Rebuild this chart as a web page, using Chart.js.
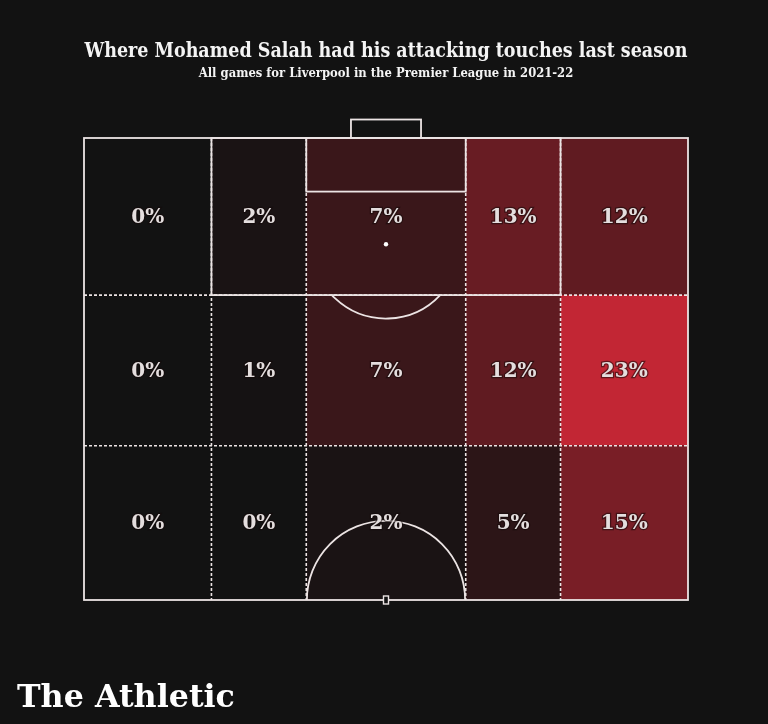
<!DOCTYPE html>
<html><head><meta charset="utf-8">
<script src="https://cdn.jsdelivr.net/npm/chart.js@4.4.0/dist/chart.umd.min.js"></script>
<style>
html,body{margin:0;padding:0;background:#121212;width:768px;height:724px;overflow:hidden;}
#wrap{position:relative;width:768px;height:724px;}
canvas{position:absolute;left:0;top:0;}
.t{position:absolute;color:#f4f4f4;font-family:"DejaVu Serif Condensed","DejaVu Serif";font-weight:bold;white-space:nowrap;line-height:1;}
#logo{color:#ffffff;font-family:"DejaVu Serif";}
</style></head>
<body><div id="wrap">
<canvas id="c" width="768" height="724"></canvas>
<div class="t" id="title">Where Mohamed Salah had his attacking touches last season</div>
<div class="t" id="sub">All games for Liverpool in the Premier League in 2021-22</div>
<div class="t" id="logo">The Athletic</div>
</div>
<script>
// ---- DATA (Opta-style pitch coordinates, 0-100) ----
// horizontal zone edges across the pitch width (left touchline -> right touchline)
const colEdges = [0, 21.1, 36.8, 63.2, 78.9, 100];
// vertical zone edges, goal line (100) down to halfway line (50)
const rowEdges = [100, 83, 66.7, 50];
// share of attacking touches (%) per zone, rows top -> bottom, columns left -> right
const shareTopRow    = [0, 2, 7, 13, 12];
const shareMiddleRow = [0, 1, 7, 12, 23];
const shareBottomRow = [0, 0, 2, 5, 15];
const shareRows = [shareTopRow, shareMiddleRow, shareBottomRow];

// ---- build cells ----
const cells = [];
shareRows.forEach((row, ri) => {
  row.forEach((v, ci) => {
    cells.push({
      x: (colEdges[ci] + colEdges[ci + 1]) / 2,
      y: (rowEdges[ri] + rowEdges[ri + 1]) / 2,
      x0: colEdges[ci], x1: colEdges[ci + 1],
      y0: rowEdges[ri], y1: rowEdges[ri + 1],
      v: v
    });
  });
});
const maxShare = Math.max(...shareRows.flat());
const BG = [18, 18, 18], HOT = [194, 38, 52];
function shade(v) {
  const t = Math.pow(v / maxShare, 1.25);
  const c = BG.map((b, i) => Math.round(b + (HOT[i] - b) * t));
  return `rgb(${c[0]},${c[1]},${c[2]})`;
}

const LINE = '#ece4e4';
const pitchPlugin = {
  id: 'pitch',
  beforeDatasetsDraw(chart) {
    const { ctx, scales: { x, y } } = chart;
    const px = v => x.getPixelForValue(v), py = v => y.getPixelForValue(v);
    ctx.save();
    // zone fills
    chart.data.datasets[0].data.forEach(d => {
      const l = px(d.x0), r = px(d.x1), t = py(d.y0), b = py(d.y1);
      ctx.fillStyle = shade(d.v);
      ctx.fillRect(l, t, r - l, b - t);
    });
    // dashed zone boundaries
    ctx.strokeStyle = LINE;
    ctx.lineWidth = 1.6;
    ctx.setLineDash([3, 2]);
    colEdges.slice(1, -1).forEach(e => {
      ctx.beginPath(); ctx.moveTo(px(e), py(100)); ctx.lineTo(px(e), py(50)); ctx.stroke();
    });
    rowEdges.slice(1, -1).forEach(e => {
      ctx.beginPath(); ctx.moveTo(px(0), py(e)); ctx.lineTo(px(100), py(e)); ctx.stroke();
    });
    ctx.setLineDash([]);
    // pitch markings
    ctx.lineWidth = 1.8;
    const rect = (a, b, c, d) => { ctx.strokeRect(px(a), py(b), px(c) - px(a), py(d) - py(b)); };
    rect(0, 100, 100, 50);            // outline (half pitch)
    rect(21.1, 100, 78.9, 83);        // penalty area
    rect(36.8, 100, 63.2, 94.2);      // six-yard box
    rect(44.2, 102, 55.8, 100);       // goal
    // penalty arc
    const cx = px(50), cy = py(88.5), r = px(12.3) - px(0);
    const dy = py(83) - cy;
    const a0 = Math.asin(Math.min(1, dy / r));
    ctx.beginPath(); ctx.arc(cx, cy, r, a0, Math.PI - a0); ctx.stroke();
    // centre circle (top half)
    const rc = px(13.1) - px(0);
    ctx.beginPath(); ctx.arc(px(50), py(50), rc, Math.PI, 2 * Math.PI); ctx.stroke();
    // penalty spot
    ctx.fillStyle = '#ffffff';
    ctx.beginPath(); ctx.arc(cx, cy, 2.2, 0, 2 * Math.PI); ctx.fill();
    // centre spot
    ctx.fillStyle = '#121212';
    ctx.fillRect(px(50) - 2.5, py(50) - 4, 5, 8);
    ctx.lineWidth = 1.4;
    ctx.strokeRect(px(50) - 2.5, py(50) - 4, 5, 8);
    ctx.restore();
  },
  afterDatasetsDraw(chart) {
    const { ctx } = chart;
    const meta = chart.getDatasetMeta(0);
    ctx.save();
    ctx.font = 'bold 20px "DejaVu Serif"';
    ctx.textAlign = 'center';
    ctx.textBaseline = 'middle';
    meta.data.forEach((pt, i) => {
      const txt = chart.data.datasets[0].data[i].v + '%';
      ctx.lineWidth = 2.5;
      ctx.strokeStyle = 'rgba(20,10,10,0.55)';
      ctx.strokeText(txt, pt.x, pt.y + 1);
      ctx.fillStyle = '#e4dede';
      ctx.fillText(txt, pt.x, pt.y + 1);
    });
    ctx.restore();
  }
};

new Chart(document.getElementById('c'), {
  type: 'scatter',
  data: {
    datasets: [{
      label: 'Attacking touches share',
      data: cells,
      pointRadius: 0,
      pointHoverRadius: 0,
      showLine: false
    }]
  },
  options: {
    responsive: false,
    animation: false,
    layout: { padding: { left: 84, right: 80, top: 138, bottom: 124 } },
    scales: {
      x: { type: 'linear', min: 0, max: 100, display: false },
      y: { type: 'linear', min: 50, max: 100, display: false }
    },
    plugins: { legend: { display: false }, tooltip: { enabled: false } }
  },
  plugins: [pitchPlugin]
});

// fit header / logo text to the reference widths
function fit(id, width, centerX, left, baseline, base) {
  const el = document.getElementById(id);
  el.style.fontSize = base + 'px';
  const w = el.getBoundingClientRect().width;
  const fs = base * width / w;
  el.style.fontSize = fs + 'px';
  const w2 = el.getBoundingClientRect().width;
  el.style.left = (centerX != null ? centerX - w2 / 2 : left) + 'px';
  el.style.top = (baseline - 0.846 * fs) + 'px';
}
fit('title', 603, 386, null, 57, 17);
fit('sub', 375, 386, null, 78, 12);
fit('logo', 218, null, 17, 707, 32);
</script>
</body></html>
